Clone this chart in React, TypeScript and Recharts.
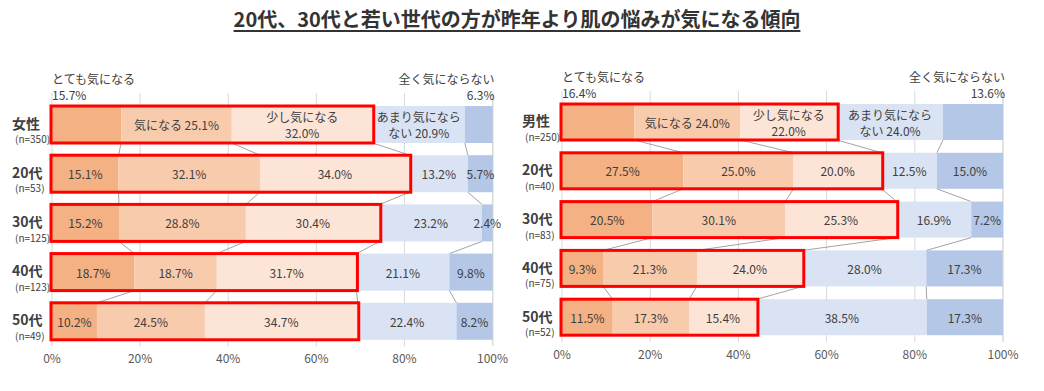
import React from 'react';
import { BarChart, Bar, XAxis, YAxis, CartesianGrid } from 'recharts';

const seriesNames = ['とても気になる', '気になる', '少し気になる', 'あまり気にならない', '全く気にならない'];
const seriesKeys = ['s0', 's1', 's2', 's3', 's4'];
const seriesColors = ['#F4B183', '#F8CBAD', '#FCE4D6', '#DAE3F3', '#B4C7E7'];
const xTicks = [0, 20, 40, 60, 80, 100];

// 女性
const femaleCats = ['女性', '20代', '30代', '40代', '50代'];
const femaleN = [350, 53, 125, 123, 49];
const femaleVery = [15.7, 15.1, 15.2, 18.7, 10.2];
const femaleMid = [25.1, 32.1, 28.8, 18.7, 24.5];
const femaleLittle = [32.0, 34.0, 30.4, 31.7, 34.7];
const femaleNotMuch = [20.9, 13.2, 23.2, 21.1, 22.4];
const femaleNone = [6.3, 5.7, 2.4, 9.8, 8.2];

// 男性
const maleCats = ['男性', '20代', '30代', '40代', '50代'];
const maleN = [250, 40, 83, 75, 52];
const maleVery = [16.4, 27.5, 20.5, 9.3, 11.5];
const maleMid = [24.0, 25.0, 30.1, 21.3, 17.3];
const maleLittle = [22.0, 20.0, 25.3, 24.0, 15.4];
const maleNotMuch = [24.0, 12.5, 16.9, 28.0, 38.5];
const maleNone = [13.6, 15.0, 7.2, 17.3, 17.3];

const FONT = '"Noto Sans CJK JP", "Noto Sans", sans-serif';
const TEXT = '#404040';
const fmt = (v: number) => `${v.toFixed(1)}%`;

type Row = { cat: string; n: number; [k: string]: any };

const buildRows = (cats: string[], ns: number[], series: number[][]): Row[] =>
    cats.map((c, i) => {
        const r: Row = { cat: c, n: ns[i] };
        seriesKeys.forEach((k, s) => { r[k] = series[s][i]; });
        return r;
    });

const femaleRows = buildRows(femaleCats, femaleN, [femaleVery, femaleMid, femaleLittle, femaleNotMuch, femaleNone]);
const maleRows = buildRows(maleCats, maleN, [maleVery, maleMid, maleLittle, maleNotMuch, maleNone]);

interface Cfg {
    left: number;
    width: number;
    marginTop: number;
    marginBottom: number;
    marginRight: number;
    yAxisWidth: number;
    padTop: number;
    barSize: number;
}

const cum = (arr: number[], upto: number) => arr.slice(0, upto).reduce((a, b) => a + b, 0);

function makeShape(seg: number, rows: Row[], gap: number) {
    return (props: any) => {
        const { x, y, width, height, index, fill } = props;
        const row = rows[index];
        const vals = seriesKeys.map((k) => row[k] as number);
        const v = vals[seg];
        const k = width / v;
        const x0 = x - cum(vals, seg) * k;
        const cy = y + height / 2;
        const els: React.ReactNode[] = [];
        els.push(<rect key="r" x={x} y={y} width={width} height={height} fill={fill} />);

        // connector to next row
        if (seg < 4 && index < rows.length - 1) {
            const next = seriesKeys.map((kk) => rows[index + 1][kk] as number);
            const nx = x0 + cum(next, seg + 1) * k;
            els.push(
                <line key="c" x1={x + width} y1={y + height} x2={nx} y2={y + height + gap} stroke="#8C8C8C" strokeWidth={0.8} />
            );
        }

        const txt = (key: string, tx: number, ty: number, s: string, anchor = 'middle') => (
            <text key={key} x={tx} y={ty} textAnchor={anchor} dominantBaseline="central" fontSize={12} fill={TEXT} fontFamily={FONT}>
                {s}
            </text>
        );
        const mid = x + width / 2;
        if (index === 0) {
            if (seg === 0) {
                els.push(txt('t1', x0, y - 28, seriesNames[0], 'start'));
                els.push(txt('t2', x0, y - 12, fmt(v), 'start'));
            } else if (seg === 1) {
                els.push(txt('t1', mid, cy, `${seriesNames[1]} ${fmt(v)}`));
            } else if (seg === 2) {
                els.push(txt('t1', mid, cy - 8, seriesNames[2]));
                els.push(txt('t2', mid, cy + 8, fmt(v)));
            } else if (seg === 3) {
                els.push(txt('t1', mid, cy - 8, seriesNames[3].slice(0, 7)));
                els.push(txt('t2', mid, cy + 8, `${seriesNames[3].slice(7)} ${fmt(v)}`));
            } else {
                els.push(txt('t1', x + width + 2, y - 28, seriesNames[4], 'end'));
                els.push(txt('t2', x + width + 2, y - 12, fmt(v), 'end'));
            }
        } else {
            els.push(txt('t', mid, cy, fmt(v)));
        }

        // red box around the first three answers
        if (seg === 4) {
            const w3 = cum(vals, 3) * k;
            els.push(
                <rect key="box" x={x0 - 1} y={y} width={w3 + 2} height={height} fill="none" stroke="#FF0000" strokeWidth={3} />
            );
        }
        return <g>{els}</g>;
    };
}

const CatTick = (props: any) => {
    const { x, y, payload, rows } = props;
    const row = (rows as Row[]).find((r) => r.cat === payload.value);
    return (
        <g>
            <text x={x - 40} y={y - 2} textAnchor="start" dominantBaseline="central" fontSize={14} fontWeight={700} fill={TEXT} fontFamily={FONT}>
                {payload.value}
            </text>
            <text x={x - 37} y={y + 14} textAnchor="start" dominantBaseline="central" fontSize={10} fill={TEXT} fontFamily={FONT}>
                {`(n=${row ? row.n : ''})`}
            </text>
        </g>
    );
};

function StackChart({ rows, cfg }: { rows: Row[]; cfg: Cfg }) {
    const H = 391;
    const xAxisH = 30;
    const plotH = H - cfg.marginTop - cfg.marginBottom - xAxisH;
    const step = (plotH - cfg.padTop) / rows.length;
    const gap = step - cfg.barSize;
    return (
        <div style={{ position: 'absolute', left: cfg.left, top: 0, width: cfg.width, height: H }}>
            <BarChart
                width={cfg.width}
                height={H}
                data={rows}
                layout="vertical"
                margin={{ top: cfg.marginTop, right: cfg.marginRight, bottom: cfg.marginBottom, left: 0 }}
                barSize={cfg.barSize}
            >
                <CartesianGrid horizontal={false} stroke="#D9D9D9" />
                <XAxis
                    type="number"
                    domain={[0, 100]}
                    ticks={xTicks}
                    tickFormatter={(v) => `${v}%`}
                    axisLine={false}
                    tickLine={false}
                    height={xAxisH}
                    tick={{ fill: '#595959', fontSize: 12, fontFamily: FONT }}
                />
                <YAxis
                    type="category"
                    dataKey="cat"
                    width={cfg.yAxisWidth}
                    axisLine={false}
                    tickLine={false}
                    tickSize={0}
                    tickMargin={0}
                    padding={{ top: cfg.padTop, bottom: 0 }}
                    tick={<CatTick rows={rows} />}
                    interval={0}
                />
                {seriesKeys.map((k, s) => (
                    <Bar
                        key={k}
                        dataKey={k}
                        name={seriesNames[s]}
                        stackId="a"
                        fill={seriesColors[s]}
                        isAnimationActive={false}
                        shape={makeShape(s, rows, gap)}
                    />
                ))}
            </BarChart>
        </div>
    );
}

const leftCfg: Cfg = { left: 0, width: 520, marginTop: 93, marginBottom: 15, marginRight: 27, yAxisWidth: 52, padTop: 7, barSize: 37 };
const rightCfg: Cfg = { left: 520, width: 524, marginTop: 91, marginBottom: 19, marginRight: 41, yAxisWidth: 42, padTop: 7, barSize: 36 };

export default function App() {
    return (
        <div style={{ position: 'absolute', left: 0, top: 0, width: 1044, height: 391, background: '#FFFFFF', fontFamily: FONT, overflow: 'hidden' }}>
            <div
                style={{
                    position: 'absolute',
                    left: 0,
                    top: 6,
                    width: 1034,
                    textAlign: 'center',
                    fontSize: 20,
                    fontWeight: 700,
                    color: '#333333',
                    textDecoration: 'underline',
                    textDecorationThickness: 2,
                    textUnderlineOffset: 3,
                    lineHeight: '26px',
                }}
            >
                20代、30代と若い世代の方が昨年より肌の悩みが気になる傾向
            </div>
            <StackChart rows={femaleRows} cfg={leftCfg} />
            <StackChart rows={maleRows} cfg={rightCfg} />
        </div>
    );
}
